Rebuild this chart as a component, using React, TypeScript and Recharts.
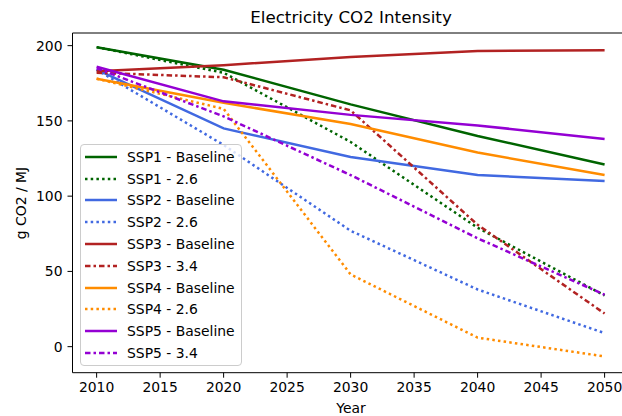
import React from 'react';
import { LineChart, Line, XAxis, YAxis, ReferenceLine } from 'recharts';

const years = [2010, 2020, 2030, 2040, 2050];

const ssp1Base = [199, 184, 161, 140, 121];
const ssp1_26 = [199, 182, 136, 79, 34];
const ssp2Base = [184, 145, 126, 114, 110];
const ssp2_26 = [184, 134, 77, 38, 9];
const ssp3Base = [183, 187, 192.5, 196.5, 197];
const ssp3_34 = [182, 179, 157, 81, 22];
const ssp4Base = [178, 162, 148, 129, 114];
const ssp4_26 = [178, 158, 48, 6, -6.5];
const ssp5Base = [186, 163, 154, 147, 138];
const ssp5_34 = [185, 153, 114, 72, 34.5];

const xTicks = [2010, 2015, 2020, 2025, 2030, 2035, 2040, 2045, 2050];
const yTicks = [0, 50, 100, 150, 200];

const LINE_W = 2.5;
const DOTTED = '2.5 3.2';
const DASHDOT = '5.5 3 2.5 3';

const series = [
  { key: 'ssp1Base', name: 'SSP1 - Baseline', values: ssp1Base, color: '#006400', dash: undefined },
  { key: 'ssp1_26', name: 'SSP1 - 2.6', values: ssp1_26, color: '#006400', dash: DOTTED },
  { key: 'ssp2Base', name: 'SSP2 - Baseline', values: ssp2Base, color: '#4169E1', dash: undefined },
  { key: 'ssp2_26', name: 'SSP2 - 2.6', values: ssp2_26, color: '#4169E1', dash: DOTTED },
  { key: 'ssp3Base', name: 'SSP3 - Baseline', values: ssp3Base, color: '#B22222', dash: undefined },
  { key: 'ssp3_34', name: 'SSP3 - 3.4', values: ssp3_34, color: '#B22222', dash: DASHDOT },
  { key: 'ssp4Base', name: 'SSP4 - Baseline', values: ssp4Base, color: '#FF8C00', dash: undefined },
  { key: 'ssp4_26', name: 'SSP4 - 2.6', values: ssp4_26, color: '#FF8C00', dash: DOTTED },
  { key: 'ssp5Base', name: 'SSP5 - Baseline', values: ssp5Base, color: '#9400D3', dash: undefined },
  { key: 'ssp5_34', name: 'SSP5 - 3.4', values: ssp5_34, color: '#9400D3', dash: DASHDOT },
];

const data = years.map((year, i) => {
  const row: Record<string, number> = { year };
  series.forEach(s => { row[s.key] = s.values[i]; });
  return row;
});

const FONT = '"DejaVu Sans", sans-serif';
const tickStyle = { fontSize: 13.9, fill: '#000', fontFamily: FONT };

// matplotlib-style legend box, overlaid inside the plot area
const LegendBox = () => (
  <div
    style={{
      position: 'absolute',
      left: 80,
      top: 144,
      width: 162,
      height: 222,
      boxSizing: 'border-box',
      border: '1px solid #cccccc',
      borderRadius: 4,
      background: 'rgba(255,255,255,0.8)',
      paddingTop: 1,
      fontSize: 13.9,
      color: '#000',
    }}
  >
    {series.map(s => (
      <div key={s.key} style={{ display: 'flex', alignItems: 'center', height: 21.8 }}>
        <svg width={46} height={10} style={{ flex: 'none' }}>
          <line x1={4} x2={36} y1={5} y2={5} stroke={s.color} strokeWidth={LINE_W} strokeDasharray={s.dash} />
        </svg>
        <span style={{ whiteSpace: 'nowrap' }}>{s.name}</span>
      </div>
    ))}
  </div>
);

export default function App() {
  return (
    <div
      style={{
        position: 'absolute',
        left: 0,
        top: 0,
        width: 622,
        height: 416,
        overflow: 'hidden',
        background: '#fff',
        fontFamily: FONT,
      }}
    >
      <div style={{ position: 'absolute', left: 0, width: 702, top: 7, textAlign: 'center', fontSize: 16.7, color: '#000' }}>
        Electricity CO2 Intensity
      </div>
      <div style={{ position: 'absolute', left: 0, width: 702, top: 400, textAlign: 'center', fontSize: 13.9, color: '#000' }}>
        Year
      </div>
      <div
        style={{
          position: 'absolute',
          left: 21,
          top: 203,
          transform: 'translate(-50%, -50%) rotate(-90deg)',
          fontSize: 13.9,
          whiteSpace: 'nowrap',
          color: '#000',
        }}
      >
        g CO2 / MJ
      </div>
      <LineChart width={640} height={416} data={data} margin={{ top: 33, right: 10, left: 0, bottom: 0 }}>
        <XAxis
          dataKey="year"
          type="number"
          domain={[2008.1, 2052]}
          ticks={xTicks}
          allowDataOverflow
          height={43.3}
          stroke="#000"
          tickSize={5}
          tickMargin={4}
          tick={tickStyle}
          tickLine={{ stroke: '#000' }}
        />
        <YAxis
          type="number"
          domain={[-17.3, 208.4]}
          ticks={yTicks}
          allowDataOverflow
          width={72.5}
          stroke="#000"
          tickSize={5}
          tickMargin={5}
          tick={tickStyle}
          tickLine={{ stroke: '#000' }}
        />
        <ReferenceLine y={208.4} stroke="#000" strokeWidth={1} ifOverflow="visible" />
        {series.map(s => (
          <Line
            key={s.key}
            type="linear"
            dataKey={s.key}
            name={s.name}
            stroke={s.color}
            strokeWidth={LINE_W}
            strokeDasharray={s.dash}
            dot={false}
            activeDot={false}
            isAnimationActive={false}
          />
        ))}
      </LineChart>
      <LegendBox />
    </div>
  );
}
